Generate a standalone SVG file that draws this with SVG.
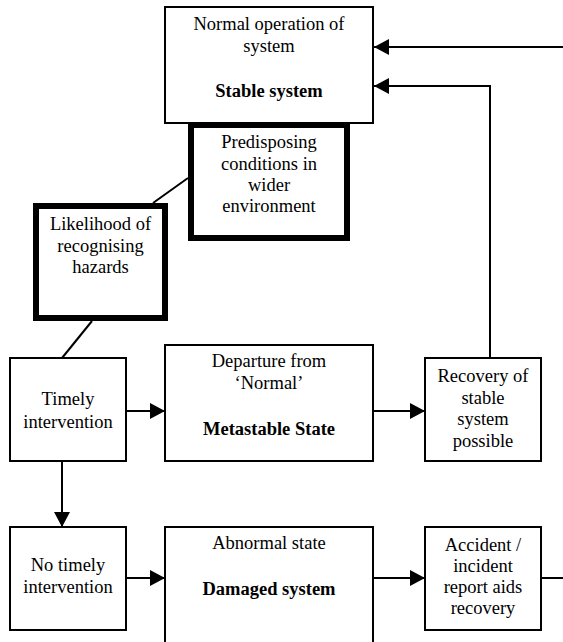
<svg xmlns="http://www.w3.org/2000/svg" width="563" height="642" viewBox="0 0 563 642">
<style>
.box{fill:#fff;stroke:#000;stroke-width:2}
.thick{fill:#fff;stroke:#000;stroke-width:6}
text{font-family:"Liberation Serif","Tinos","Times New Roman","DejaVu Serif",serif;font-size:18.5px;fill:#000;text-anchor:middle}
.b{font-weight:bold}
.c{fill:none;stroke:#000;stroke-width:2}
</style>
<defs>
<marker id="ah" markerUnits="userSpaceOnUse" markerWidth="16" markerHeight="16" refX="15" refY="8" orient="auto">
<path d="M0,0 L15,8 L0,16 z" fill="#000"/>
</marker>
</defs>
<g id="connectors">
<path class="c" d="M563,47 H374" marker-end="url(#ah)"/>
<path class="c" d="M490,358 V86 H374" marker-end="url(#ah)"/>
<path class="c" d="M126,411 H165" marker-end="url(#ah)"/>
<path class="c" d="M373,411 H425" marker-end="url(#ah)"/>
<path class="c" d="M62,461 V527" marker-end="url(#ah)"/>
<path class="c" d="M126,578 H165" marker-end="url(#ah)"/>
<path class="c" d="M373,578 H425" marker-end="url(#ah)"/>
<path class="c" d="M542,578 H563"/>
<path class="c" d="M153,203 L188,178"/>
<path class="c" d="M92,321 L62,358"/>
</g>
<g id="stable">
<rect class="box" x="165" y="7" width="208" height="116"/>
<text x="269" y="30">Normal operation of</text>
<text x="269" y="52">system</text>
<text class="b" x="269" y="97">Stable system</text>
</g>
<g id="predisposing">
<rect class="thick" x="191" y="125" width="156" height="113"/>
<text x="269" y="148">Predisposing</text>
<text x="269" y="169.5">conditions in</text>
<text x="269" y="191">wider</text>
<text x="269" y="212">environment</text>
</g>
<g id="likelihood">
<rect class="thick" x="36" y="206" width="129" height="112"/>
<text x="100.5" y="230">Likelihood of</text>
<text x="100.5" y="252">recognising</text>
<text x="100.5" y="273">hazards</text>
</g>
<g id="timely">
<rect class="box" x="10" y="358" width="116" height="103"/>
<text x="68" y="405">Timely</text>
<text x="68" y="428">intervention</text>
</g>
<g id="metastable">
<rect class="box" x="165" y="345" width="208" height="116"/>
<text x="269" y="367">Departure from</text>
<text x="269" y="389">‘Normal’</text>
<text class="b" x="269" y="435">Metastable State</text>
</g>
<g id="recovery">
<rect class="box" x="425" y="358" width="116" height="103"/>
<text x="483" y="382">Recovery of</text>
<text x="483" y="404">stable</text>
<text x="483" y="425">system</text>
<text x="483" y="447">possible</text>
</g>
<g id="no-timely">
<rect class="box" x="10" y="527" width="116" height="103"/>
<text x="68" y="571">No timely</text>
<text x="68" y="593">intervention</text>
</g>
<g id="damaged">
<rect class="box" x="165" y="527" width="208" height="125"/>
<text x="269" y="549">Abnormal state</text>
<text class="b" x="269" y="595">Damaged system</text>
</g>
<g id="accident">
<rect class="box" x="425" y="527" width="116" height="103"/>
<text x="483" y="551">Accident /</text>
<text x="483" y="572">incident</text>
<text x="483" y="593">report aids</text>
<text x="483" y="614">recovery</text>
</g>
</svg>
